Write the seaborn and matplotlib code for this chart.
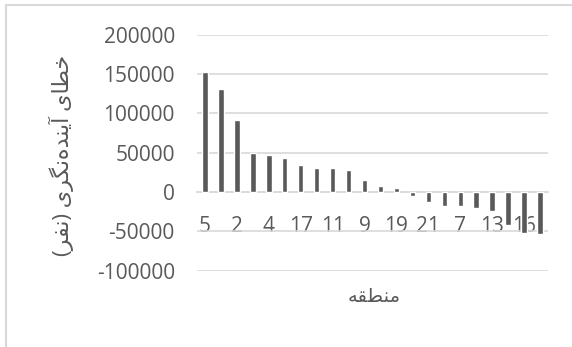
import matplotlib
matplotlib.use("Agg")
import matplotlib.pyplot as plt
from matplotlib.lines import Line2D
import seaborn as sns
import pandas as pd

# DATA -----------------------------------------------------------------------------------------
districts = ['5', '1', '2', '3', '4', '15', '17', '12', '11', '10', '9', '6',
             '19', '8', '21', '14', '7', '18', '13', '20', '16', '22']
errors = [152700, 131500, 91200, 49600, 46700, 43700, 34800, 30500, 30200, 28500, 15800, 8000,
          4600, -5000, -13000, -17500, -17500, -20000, -24000, -41500, -52000, -53000]
y_ticks = [-100000, -50000, 0, 50000, 100000, 150000, 200000]

# Persian labels, written in presentation forms (visual order) since matplotlib does no shaping
x_title = '\uFEEA\uFED8\uFEC4\uFEE8\uFEE3'  # منطقه
y_title = ('(\uFEAE\uFED4\uFEE7) '
           '\uFEEF\uFEAE\uFB95\uFEE7\uFEE9\uFEAA\uFEE8\uFEF3\uFE81 '
           '\uFEEF\uFE8E\uFEC4\uFEA7')  # خطای آینده‌نگری (نفر)

df = pd.DataFrame({'district': districts, 'error': errors})

# PLOT -----------------------------------------------------------------------------------------
sns.set_style('white')
plt.rcParams['font.family'] = ['Open Sans', 'DejaVu Sans']
text_color = '#595959'
grid_color = '#d9d9d9'

fig = plt.figure(figsize=(5.72, 3.47), dpi=100)
ax = fig.add_axes([197 / 572, 1 - 270.6 / 347, 351 / 572, 235.8 / 347])

sns.barplot(data=df, x='district', y='error', order=districts, color='#595959',
            saturation=1, width=0.34, ax=ax, zorder=3)

ax.set_ylim(-100000, 200000)
ax.set_xlim(-0.5, len(districts) - 0.5)
ax.set_yticks(y_ticks)
ax.set_yticklabels([str(v) for v in y_ticks])
ax.yaxis.grid(True, color=grid_color, linewidth=1.2)
ax.set_axisbelow(True)

# show every other district, as in the original
ax.set_xticks(range(len(districts)))
ax.set_xticklabels([d if i % 2 == 0 else '' for i, d in enumerate(districts)])

for side in ['top', 'right', 'left']:
    ax.spines[side].set_visible(False)
ax.spines['bottom'].set_position(('data', 0))
ax.spines['bottom'].set_color(grid_color)
ax.spines['bottom'].set_linewidth(1.2)

ax.tick_params(axis='both', length=0, labelsize=15, colors=text_color)
ax.tick_params(axis='x', pad=17)
ax.tick_params(axis='y', pad=16)

ax.set_xlabel(x_title, fontsize=14, color=text_color, va='center')
ax.xaxis.set_label_coords(177 / 351, -26.4 / 235.8)
ax.set_ylabel(y_title, fontsize=16, color=text_color, va='center')
ax.yaxis.set_label_coords(-136 / 351, 0.49)

# chart frame (only left and top edges are visible in the crop)
fig.add_artist(Line2D([6 / 572, 6 / 572], [0, 1 - 5 / 347], transform=fig.transFigure,
                      color=grid_color, linewidth=1.5))
fig.add_artist(Line2D([6 / 572, 1], [1 - 5 / 347, 1 - 5 / 347], transform=fig.transFigure,
                      color=grid_color, linewidth=1.5))

fig.savefig('out.png', dpi=100)
